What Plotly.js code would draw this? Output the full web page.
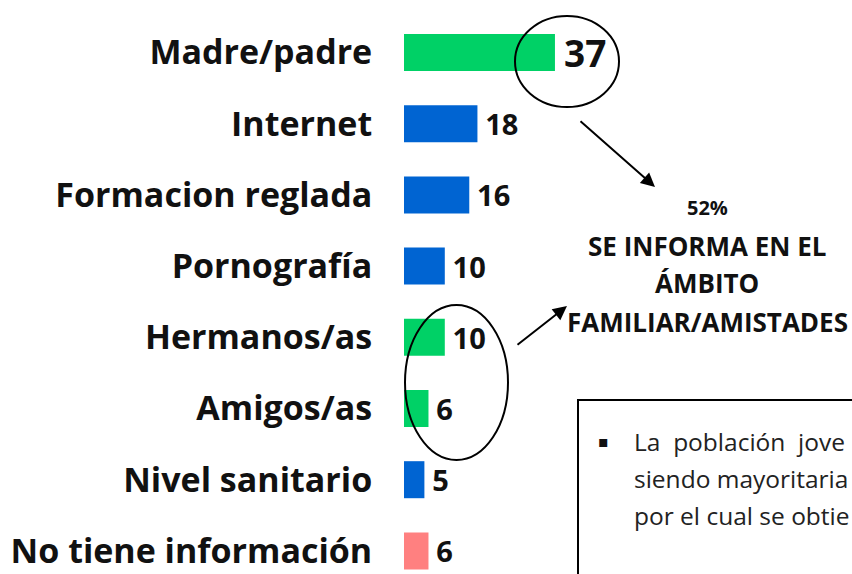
<!DOCTYPE html>
<html>
<head>
<meta charset="utf-8">
<script src="https://cdn.plot.ly/plotly-3.0.1.min.js"></script>
<style>html,body{margin:0;padding:0;background:#fff;}#chart{width:852px;height:574px;}</style>
</head>
<body>
<div id="chart"></div>
<script>
const categories = ["Madre/padre", "Internet", "Formacion reglada", "Pornografía", "Hermanos/as", "Amigos/as", "Nivel sanitario", "No tiene información"];
const values = [37, 18, 16, 10, 10, 6, 5, 6];
const barColors = ["#00D166", "#0064D2", "#0064D2", "#0064D2", "#00D166", "#00D166", "#0064D2", "#FF8080"];
const labelSizes = [37, 29, 29, 29, 29, 29, 29, 29];
const summaryLines = ["52%", "SE INFORMA EN EL", "ÁMBITO", "FAMILIAR/AMISTADES"];
const boxLines = ["La  población  jove", "siendo mayoritaria", "por el cual se obtie"];

const FONT = 'Open Sans';
const W = 852, H = 574, L = 404;
const ROW0 = 52.5, STEP = 71.2;
const px = (p) => (p - L) / (W - L);
const py = (p) => 1 - p / H;

const positions = categories.map((c, i) => i);

const trace = {
  type: 'bar',
  orientation: 'h',
  y: positions,
  x: values,
  width: 0.52,
  marker: { color: barColors },
  text: values.map(v => '\u2009' + v),
  textposition: 'outside',
  constraintext: 'none',
  textfont: { family: FONT, size: labelSizes, color: '#111', weight: 'bold' },
  cliponaxis: false,
  hoverinfo: 'skip'
};

const annotations = [];
const ys = [207, 246, 283, 322];
const sizes = [20, 26, 26, 26];
summaryLines.forEach((t, i) => {
  annotations.push({ xref: 'paper', yref: 'paper', x: px(707), y: py(ys[i]), text: '<b>' + t + '</b>',
    showarrow: false, xanchor: 'center', yanchor: 'middle', font: { family: FONT, size: sizes[i], color: '#111' } });
});
// arrows
annotations.push({ xref: 'paper', yref: 'paper', x: px(655), y: py(187), ax: -76, ay: -67, text: '',
  showarrow: true, arrowhead: 2, arrowsize: 1.4, arrowwidth: 2, arrowcolor: '#000' });
annotations.push({ xref: 'paper', yref: 'paper', x: px(567), y: py(306), ax: -51, ay: 40, text: '',
  showarrow: true, arrowhead: 2, arrowsize: 1.4, arrowwidth: 2, arrowcolor: '#000' });
// box text
annotations.push({ xref: 'paper', yref: 'paper', x: px(603), y: py(441), text: '▪', showarrow: false,
  xanchor: 'center', yanchor: 'middle', font: { family: 'DejaVu Sans', size: 16, color: '#111' } });
[441, 478, 515].forEach((yy, i) => {
  annotations.push({ xref: 'paper', yref: 'paper', x: px(632), y: py(yy), text: boxLines[i], showarrow: false,
    xanchor: 'left', yanchor: 'middle', font: { family: FONT, size: 24.5, color: '#222' } });
});

const shapes = [
  { type: 'circle', xref: 'paper', yref: 'paper', x0: px(515), x1: px(619), y0: py(107), y1: py(16),
    line: { color: '#000', width: 2 } },
  { type: 'circle', xref: 'paper', yref: 'paper', x0: px(405), x1: px(508), y0: py(460), y1: py(305),
    line: { color: '#000', width: 2 } },
  { type: 'rect', xref: 'paper', yref: 'paper', x0: px(578), x1: px(920), y0: py(640), y1: py(400),
    line: { color: '#000', width: 2 } }
];

const layout = {
  width: W, height: H,
  margin: { l: L, r: 0, t: 0, b: 0, pad: 0 },
  paper_bgcolor: '#fff', plot_bgcolor: '#fff',
  showlegend: false,
  xaxis: { range: [0, 448 / 4.08], visible: false, fixedrange: true },
  yaxis: {
    range: [(H - ROW0) / STEP, -ROW0 / STEP],
    tickvals: positions, ticktext: categories,
    ticks: 'outside', ticklen: 24, tickcolor: 'rgba(0,0,0,0)',
    ticklabeloverflow: 'allow',
    showgrid: false, zeroline: false, showline: false,
    tickfont: { family: FONT, size: 34, color: '#111', weight: 'bold' }
  },
  annotations: annotations,
  shapes: shapes
};

Plotly.newPlot('chart', [trace], layout, { staticPlot: true, displayModeBar: false });
</script>
</body>
</html>
